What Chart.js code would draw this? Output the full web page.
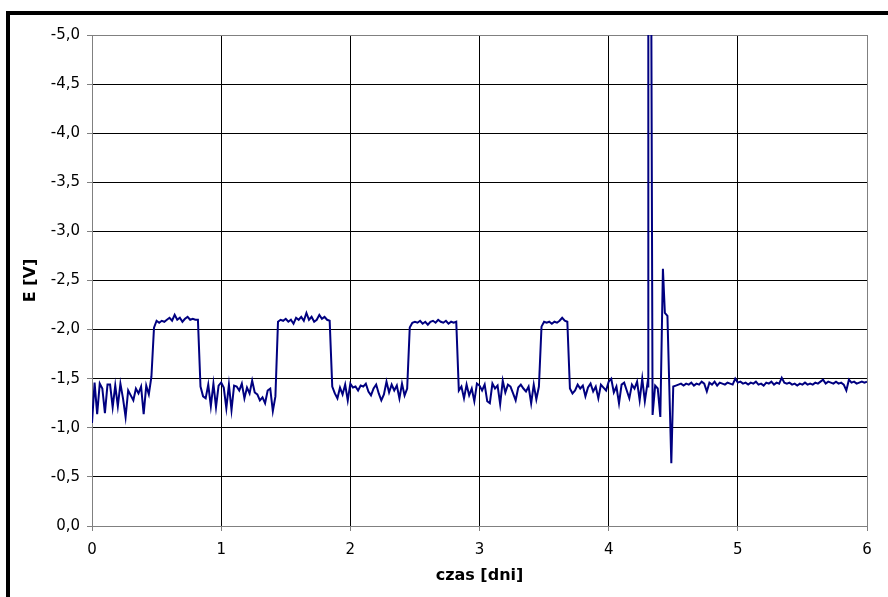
<!DOCTYPE html>
<html><head><meta charset="utf-8">
<script src="https://cdn.jsdelivr.net/npm/chart.js@4"></script>
<style>html,body{margin:0;padding:0;background:#fff;}canvas{display:block;}</style>
</head><body>
<canvas id="c" width="888" height="597"></canvas>
<script>
// ---- data (E [V] vs czas [dni]) ----
const xTitle = 'czas [dni]';
const yTitle = 'E [V]';
const xTickValues = [0, 1, 2, 3, 4, 5, 6];
const yTickValues = [0, -0.5, -1, -1.5, -2, -2.5, -3, -3.5, -4, -4.5, -5];
const sampleStep = 0.02; // days between readings

// readings starting at day 0.00, 1.00, 2.00, 3.00, 4.00
const day0Volts = [-1.05,-1.46,-1.14,-1.45,-1.40,-1.15,-1.44,-1.44,-1.21,-1.43,
                   -1.22,-1.45,-1.30,-1.11,-1.38,-1.33,-1.28,-1.40,-1.35,-1.42,
                   -1.14,-1.43,-1.34,-1.52,-2.02,-2.09,-2.07,-2.09,-2.08,-2.10,
                   -2.12,-2.09,-2.15,-2.10,-2.12,-2.08,-2.11,-2.13,-2.10,-2.11,
                   -2.10,-2.10,-1.42,-1.32,-1.30,-1.44,-1.22,-1.45,-1.21,-1.43];
const day1Volts = [-1.46,-1.41,-1.20,-1.44,-1.18,-1.43,-1.42,-1.38,-1.45,-1.30,
                   -1.41,-1.35,-1.48,-1.36,-1.34,-1.28,-1.31,-1.25,-1.38,-1.40,
                   -1.17,-1.32,-2.08,-2.10,-2.09,-2.11,-2.08,-2.10,-2.06,-2.12,
                   -2.10,-2.13,-2.09,-2.17,-2.10,-2.13,-2.08,-2.10,-2.15,-2.11,
                   -2.13,-2.10,-2.09,-1.42,-1.35,-1.30,-1.41,-1.34,-1.44,-1.28];
const day2Volts = [-1.45,-1.41,-1.42,-1.38,-1.43,-1.42,-1.45,-1.37,-1.33,-1.40,
                   -1.44,-1.35,-1.28,-1.34,-1.47,-1.36,-1.44,-1.38,-1.43,-1.30,
                   -1.45,-1.33,-1.40,-2.02,-2.07,-2.08,-2.07,-2.09,-2.06,-2.08,
                   -2.05,-2.08,-2.09,-2.07,-2.10,-2.08,-2.07,-2.09,-2.06,-2.08,
                   -2.07,-2.08,-1.38,-1.42,-1.30,-1.44,-1.33,-1.40,-1.27,-1.45];
const day3Volts = [-1.43,-1.38,-1.44,-1.27,-1.25,-1.45,-1.40,-1.43,-1.24,-1.48,
                   -1.36,-1.44,-1.42,-1.35,-1.28,-1.41,-1.44,-1.40,-1.37,-1.42,
                   -1.25,-1.44,-1.29,-1.42,-2.03,-2.08,-2.07,-2.08,-2.06,-2.08,
                   -2.07,-2.09,-2.12,-2.09,-2.08,-1.40,-1.35,-1.38,-1.44,-1.40,
                   -1.43,-1.32,-1.41,-1.45,-1.37,-1.42,-1.30,-1.44,-1.41,-1.38];
const day4Volts = [-1.47,-1.50,-1.36,-1.42,-1.25,-1.44,-1.46,-1.38,-1.30,-1.44,
                   -1.40,-1.47,-1.28,-1.50,-1.27];
// disturbance around day 4.3 - 4.5 (irregular readings)
const spikeDays  = [4.30, 4.305, 4.307, 4.327, 4.34, 4.36, 4.38, 4.40, 4.42, 4.435, 4.455, 4.485, 4.50];
const spikeVolts = [-1.45,-1.42,-6.50,-6.50,-1.13,-1.43,-1.40,-1.11,-2.62,-2.17,-2.14,-0.64,-1.42];
// steady readings from day 4.52 to 6.00
const tailStart = 4.52;
const tailVolts = [-1.43,-1.44,-1.45,-1.43,-1.45,-1.44,-1.46,-1.43,-1.45,-1.44,
                   -1.47,-1.45,-1.37,-1.46,-1.44,-1.47,-1.43,-1.46,-1.45,-1.44,
                   -1.46,-1.45,-1.44,-1.50,-1.46,-1.47,-1.45,-1.46,-1.44,-1.46,
                   -1.45,-1.47,-1.44,-1.45,-1.43,-1.46,-1.45,-1.47,-1.44,-1.46,
                   -1.45,-1.51,-1.46,-1.45,-1.46,-1.44,-1.45,-1.43,-1.45,-1.44,
                   -1.46,-1.44,-1.45,-1.44,-1.46,-1.45,-1.47,-1.49,-1.45,-1.47,
                   -1.46,-1.45,-1.47,-1.45,-1.46,-1.44,-1.38,-1.49,-1.46,-1.47,
                   -1.45,-1.46,-1.47,-1.46,-1.47];

// ---- build points ----
function segment(start, vals) {
  return vals.map((v, i) => ({ x: +(start + i * sampleStep).toFixed(4), y: v }));
}
const points = [
  ...segment(0, day0Volts),
  ...segment(1, day1Volts),
  ...segment(2, day2Volts),
  ...segment(3, day3Volts),
  ...segment(4, day4Volts),
  ...spikeDays.map((d, i) => ({ x: d, y: spikeVolts[i] })),
  ...segment(tailStart, tailVolts)
];

const FONT = 'DejaVu Sans';
const fmt = v => (Math.abs(v) < 1e-9 ? 0 : v).toFixed(1).replace('.', ',');

const framePlugin = {
  id: 'frame',
  afterDraw(chart) {
    const c = chart.ctx;
    c.save();
    c.fillStyle = '#000';
    c.fillRect(6, 11, 882, 4);
    c.fillRect(6, 11, 4, 586);
    c.restore();
  }
};

new Chart(document.getElementById('c'), {
  type: 'line',
  data: {
    datasets: [{
      data: points,
      borderColor: '#000080',
      borderWidth: 2,
      pointRadius: 0,
      tension: 0,
      fill: false
    }]
  },
  options: {
    responsive: false,
    animation: false,
    events: [],
    layout: { padding: { left: 0, top: 35, right: 21, bottom: 0 } },
    plugins: { legend: { display: false }, tooltip: { enabled: false } },
    scales: {
      x: {
        type: 'linear',
        min: 0, max: 6,
        afterBuildTicks: s => { s.ticks = xTickValues.map(v => ({ value: v })); },
        afterFit: s => { s.height = 71; },
        ticks: { color: '#000', font: { family: FONT, size: 15 }, padding: 10, maxRotation: 0,
                 callback: v => String(v) },
        grid: { color: c => (c.tick && c.tick.value === 6) ? '#808080' : '#000',
                lineWidth: 1, tickLength: 5, tickColor: '#808080' },
        border: { display: true, color: '#808080', width: 1 },
        title: { display: true, text: xTitle, color: '#000',
                 font: { family: FONT, size: 16, weight: 'bold' }, padding: { top: 0, bottom: 12 } }
      },
      y: {
        type: 'linear',
        min: -5, max: 0, reverse: true,
        afterBuildTicks: s => { s.ticks = yTickValues.map(v => ({ value: v })); },
        afterFit: s => { s.width = 92; },
        ticks: { color: '#000', font: { family: FONT, size: 15 }, padding: 7, callback: fmt },
        grid: { color: c => (c.tick && c.tick.value === -5) ? '#808080' : '#000',
                lineWidth: 1, tickLength: 5, tickColor: '#808080' },
        border: { display: true, color: '#808080', width: 1 },
        title: { display: true, text: yTitle, color: '#000',
                 font: { family: FONT, size: 16, weight: 'bold' }, padding: { top: 21, bottom: 0 } }
      }
    }
  },
  plugins: [framePlugin]
});
</script>
</body></html>
